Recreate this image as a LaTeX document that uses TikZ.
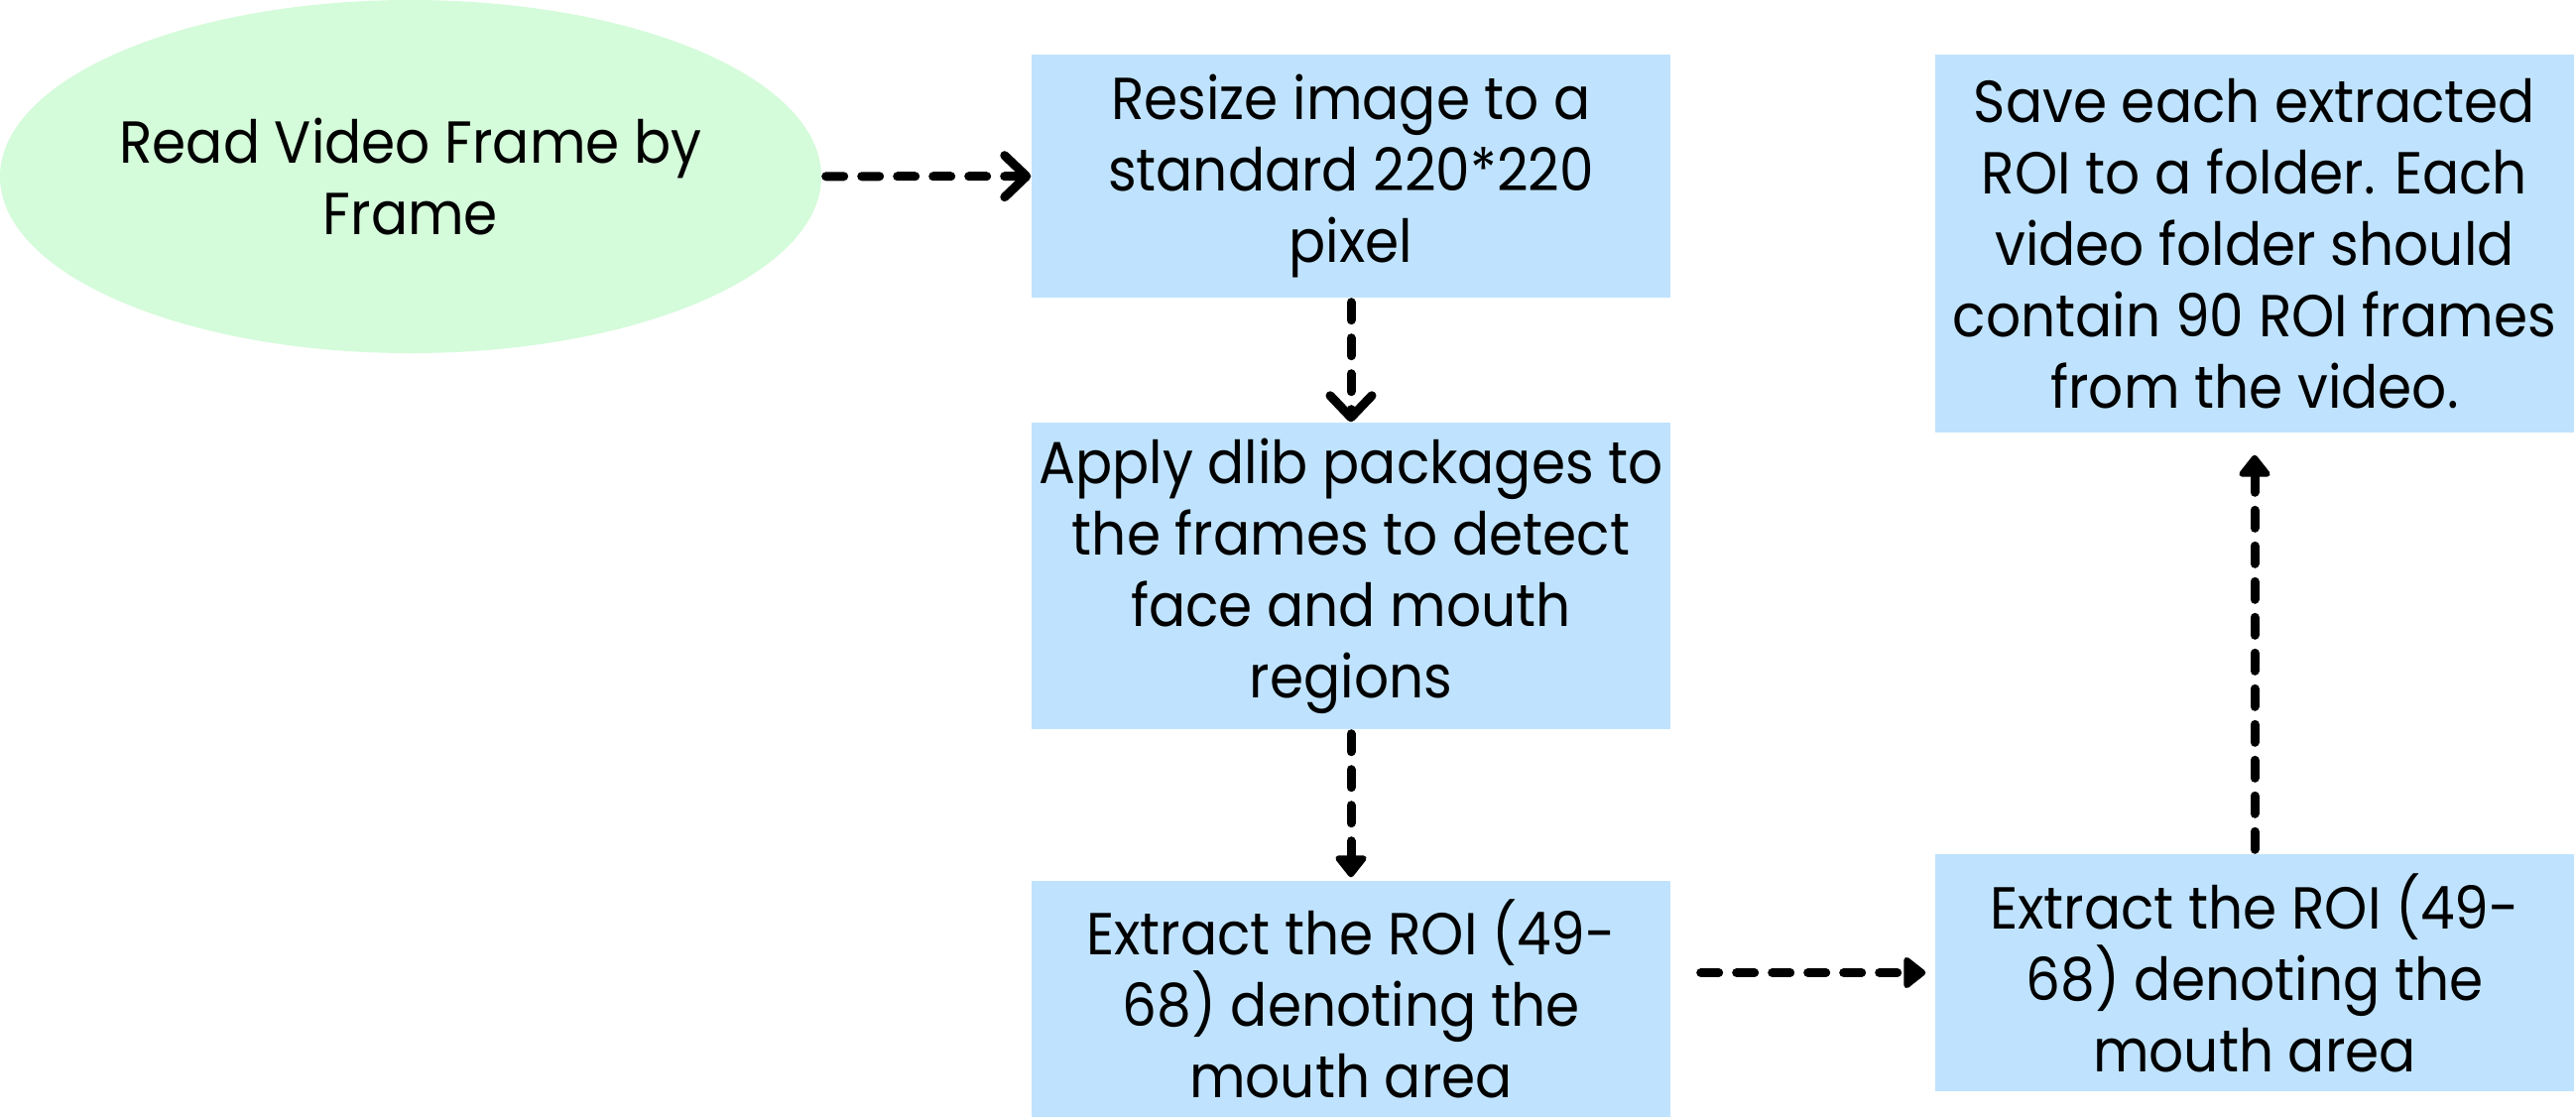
\documentclass[tikz,border=0pt]{standalone}
\usepackage{fontspec}
\setmainfont{Poppins}[FakeStretch=0.92]
\usetikzlibrary{arrows.meta,shapes.geometric}
\definecolor{boxblue}{RGB}{191,227,254}
\definecolor{ovalgreen}{RGB}{212,251,218}
\begin{document}
\begin{tikzpicture}[
  txt/.style={align=center,font=\fontsize{17}{20.5}\selectfont},
  box/.style={rectangle,fill=boxblue,minimum width=6.44cm,inner sep=0pt,txt},
  oval/.style={ellipse,fill=ovalgreen,minimum width=8.28cm,minimum height=3.56cm,inner sep=0pt},
  flow/.style={line width=0.09cm,line cap=round,dash pattern=on 0.18cm off 0.18cm},
  barb/.style={flow,-{Straight Barb[length=0.22cm,width=0.42cm,line cap=round,line join=round]}},
  tri/.style={flow,-{Triangle[round,length=0.24cm,width=0.36cm]}}]
\useasboundingbox (0,0) rectangle (25.97,-11.28);
%\draw[very thin,color=gray] (0,-11.28) grid (25.97,0);

\node(read) at (4.14,-1.78)[oval,label={[txt]center:Read Video Frame by\\Frame}]{};

\node(resize) at (13.62,-1.775)[box,minimum height=2.45cm]{Resize image to a\\standard 220*220\\pixel};
\node(dlib) at (13.62,-5.805)[box,minimum height=3.09cm]{Apply dlib packages to\\the frames to detect\\face and mouth\\regions};
\node(roi) at (13.62,-10.07)[box,minimum height=2.38cm]{Extract the ROI (49-\\68) denoting the\\mouth area};

\node(roib) at (22.73,-9.805)[box,minimum height=2.39cm]{Extract the ROI (49-\\68) denoting the\\mouth area};
\node(save) at (22.73,-2.455)[box,minimum height=3.81cm]{Save each extracted\\ROI to a folder. Each\\video folder should\\contain 90 ROI frames\\from the video.};

% open heads on the first two, filled ones after
\draw[barb,shorten <=0.04cm] (read) -- (resize);
\draw[barb,shorten <=0.04cm] (resize) -- (dlib);
\draw[tri,shorten <=0.04cm,shorten >=0.03cm] (dlib) -- (roi);
\draw[tri,shorten <=0.3cm,shorten >=0.09cm] (roi.east |- roib.west) -- (roib.west);
\draw[tri,shorten <=0.04cm,shorten >=0.22cm] (roib) -- (save);

\end{tikzpicture}
\end{document}
